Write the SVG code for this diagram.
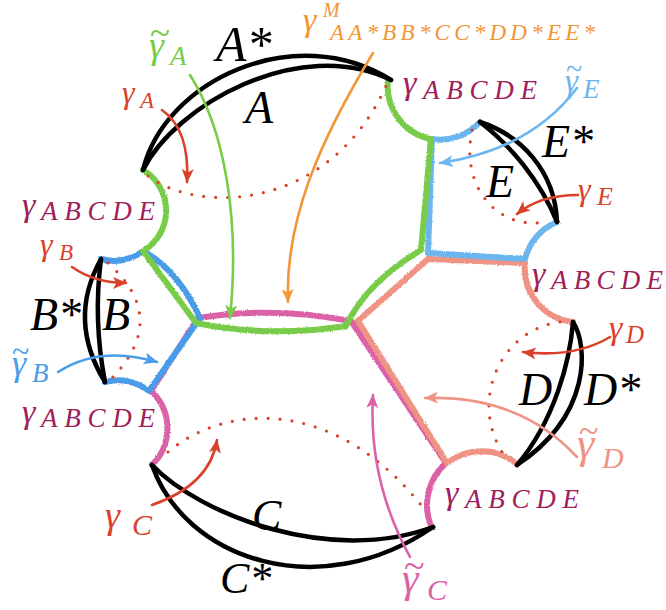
<svg xmlns="http://www.w3.org/2000/svg" width="666" height="610" viewBox="0 0 666 610">
<style>
.lbl{font-family:'Liberation Serif','DejaVu Serif',serif;font-style:italic}
.tl{font-family:'Liberation Serif','DejaVu Serif',serif;font-style:normal}
.blk{fill:none;stroke:#000;stroke-width:4.5;stroke-linecap:round;stroke-linejoin:round}
.loop{fill:none;stroke-width:6;stroke-linecap:round;stroke-linejoin:round;filter:url(#rough)}
.dot{fill:none;stroke:#d9412b;stroke-width:3.2;stroke-linecap:round;stroke-dasharray:0 12}
.arr{fill:none;stroke-width:2.6;stroke-linecap:round}
.red{fill:#d9412b}.mar{fill:#a0205a}
</style>
<defs>
<filter id="rough" filterUnits="userSpaceOnUse" x="0" y="0" width="666" height="610">
<feTurbulence type="fractalNoise" baseFrequency="0.9" numOctaves="2" seed="4"/>
<feDisplacementMap in="SourceGraphic" scale="2.5" xChannelSelector="R" yChannelSelector="G"/>
</filter>
<marker id="ah-red" viewBox="0 0 14 12" refX="13" refY="6" markerWidth="14" markerHeight="12" markerUnits="userSpaceOnUse" orient="auto"><path d="M0,0 L14,6 L0,12 L3.5,6 z" fill="#d9412b"/></marker>
<marker id="ah-green" viewBox="0 0 14 12" refX="13" refY="6" markerWidth="14" markerHeight="12" markerUnits="userSpaceOnUse" orient="auto"><path d="M0,0 L14,6 L0,12 L3.5,6 z" fill="#78cc48"/></marker>
<marker id="ah-orange" viewBox="0 0 14 12" refX="13" refY="6" markerWidth="14" markerHeight="12" markerUnits="userSpaceOnUse" orient="auto"><path d="M0,0 L14,6 L0,12 L3.5,6 z" fill="#f29636"/></marker>
<marker id="ah-blue" viewBox="0 0 14 12" refX="13" refY="6" markerWidth="14" markerHeight="12" markerUnits="userSpaceOnUse" orient="auto"><path d="M0,0 L14,6 L0,12 L3.5,6 z" fill="#4a9de8"/></marker>
<marker id="ah-lblue" viewBox="0 0 14 12" refX="13" refY="6" markerWidth="14" markerHeight="12" markerUnits="userSpaceOnUse" orient="auto"><path d="M0,0 L14,6 L0,12 L3.5,6 z" fill="#6cb6f0"/></marker>
<marker id="ah-salmon" viewBox="0 0 14 12" refX="13" refY="6" markerWidth="14" markerHeight="12" markerUnits="userSpaceOnUse" orient="auto"><path d="M0,0 L14,6 L0,12 L3.5,6 z" fill="#ef9484"/></marker>
<marker id="ah-pink" viewBox="0 0 14 12" refX="13" refY="6" markerWidth="14" markerHeight="12" markerUnits="userSpaceOnUse" orient="auto"><path d="M0,0 L14,6 L0,12 L3.5,6 z" fill="#dc62a8"/></marker>
</defs>
<rect width="666" height="610" fill="#fff"/>

<g id="loops">
<path id="loop-C" class="loop" stroke="#dc62a8" d="M152,465 A51,51 0 0 0 151,391 L198,318 Q272,306 351,321 L446,463 A56,56 0 0 0 432,528"/>
<path id="loop-D" class="loop" stroke="#ef9484" d="M517,464 A56,56 0 0 0 447,463 L358,321 L428,259 L525,263 A54,54 0 0 0 573,322"/>
<path id="loop-B" class="loop" stroke="#4a9de8" d="M101,259 A47,47 0 0 0 143,251 Q178,270 200,318 L149,391 A51,51 0 0 0 105,382"/>
<path id="loop-E" class="loop" stroke="#6cb6f0" d="M480,122 A54,54 0 0 1 432,139 L428,253 L525,259 A54,54 0 0 1 557,222"/>
<path id="loop-A" class="loop" stroke="#78cc48" d="M143,170 A47,47 0 0 1 143,251 L196,323 Q270,338 346,326 Q366,283 421,250 L431,139 A54,54 0 0 1 388,80"/>
</g>

<g id="edges">
<path id="A-star" class="blk" d="M143,170 C165,80 295,20 391,80"/>
<path id="A" class="blk" d="M143,170 C175,105 300,35 391,80"/>
<path id="B-star" class="blk" d="M101,259 Q67,320 105,382"/>
<path id="B" class="blk" d="M101,259 Q93,320 105,382"/>
<path id="C" class="blk" d="M152,465 C200,515 330,565 433,527"/>
<path id="C-star" class="blk" d="M152,465 C185,560 320,605 433,527"/>
<path id="D-star" class="blk" d="M573,322 C588,345 592,415 517,465"/>
<path id="D" class="blk" d="M573,322 C570,360 555,420 517,465"/>
<path id="E-star" class="blk" d="M480,122 C520,135 555,170 557,222"/>
<path id="E" class="blk" d="M480,122 C510,145 540,180 557,222"/>
</g>

<g id="dotted">
<path id="gA" class="dot" d="M148,176 C200,215 330,210 386,86"/>
<path id="gB" class="dot" d="M108,263 Q170,318 112,378"/>
<path id="gC" class="dot" d="M168,452 C230,400 340,400 425,510"/>
<path id="gD" class="dot" d="M560,322 C500,330 470,400 502,452"/>
<path id="gE" class="dot" d="M472,130 C460,190 500,230 545,222"/>
</g>

<g id="connectors">
<path class="arr" stroke="#d9412b" marker-end="url(#ah-red)" d="M162,110 Q190,130 187,182"/>
<path class="arr" stroke="#78cc48" marker-end="url(#ah-green)" d="M190,75 C225,130 240,220 230,318"/>
<path class="arr" stroke="#f29636" marker-end="url(#ah-orange)" d="M373,53 C320,140 285,220 288,302"/>
<path class="arr" stroke="#6cb6f0" marker-end="url(#ah-lblue)" d="M577,88 Q530,150 440,163"/>
<path class="arr" stroke="#d9412b" marker-end="url(#ah-red)" d="M578,195 Q540,195 517,214"/>
<path class="arr" stroke="#d9412b" marker-end="url(#ah-red)" d="M610,337 Q575,358 523,352"/>
<path class="arr" stroke="#ef9484" marker-end="url(#ah-salmon)" d="M577,457 Q520,395 425,398"/>
<path class="arr" stroke="#dc62a8" marker-end="url(#ah-pink)" d="M410,557 Q368,480 373,395"/>
<path class="arr" stroke="#d9412b" marker-end="url(#ah-red)" d="M152,505 Q210,485 217,440"/>
<path class="arr" stroke="#4a9de8" marker-end="url(#ah-blue)" d="M58,372 Q100,345 157,362"/>
<path class="arr" stroke="#d9412b" marker-end="url(#ah-red)" d="M72,267 Q95,283 126,283"/>
</g>

<g id="labels">
<text class="lbl" x="216" y="61" font-size="50">A*</text>
<text class="lbl" x="245" y="123" font-size="46">A</text>
<text class="lbl" x="30" y="330" font-size="46">B*</text>
<text class="lbl" x="102" y="330" font-size="46">B</text>
<text class="lbl" x="252" y="530" font-size="44">C</text>
<text class="lbl" x="220" y="593" font-size="44">C*</text>
<text class="lbl" x="519" y="405" font-size="46">D</text>
<text class="lbl" x="584" y="405" font-size="46">D*</text>
<text class="lbl" x="486" y="197" font-size="46">E</text>
<text class="lbl" x="542" y="157" font-size="46">E*</text>

<g id="lbl-gABCDE" class="mar">
<text class="lbl" x="403" y="94" font-size="34">γ</text>
<text class="lbl" x="423" y="99" font-size="27" textLength="114" lengthAdjust="spacing">ABCDE</text>
<text class="lbl" x="22" y="216" font-size="34">γ</text>
<text class="lbl" x="41" y="220" font-size="27" textLength="114" lengthAdjust="spacing">ABCDE</text>
<text class="lbl" x="22" y="423" font-size="34">γ</text>
<text class="lbl" x="41" y="427" font-size="27" textLength="114" lengthAdjust="spacing">ABCDE</text>
<text class="lbl" x="532" y="285" font-size="34">γ</text>
<text class="lbl" x="551" y="289" font-size="27" textLength="112" lengthAdjust="spacing">ABCDE</text>
<text class="lbl" x="445" y="504" font-size="34">γ</text>
<text class="lbl" x="465" y="508" font-size="27" textLength="114" lengthAdjust="spacing">ABCDE</text>
</g>

<g id="lbl-red" class="red">
<text class="lbl" x="122" y="103" font-size="32">γ</text>
<text class="lbl" x="140" y="108" font-size="23">A</text>
<text class="lbl" x="40" y="255" font-size="32">γ</text>
<text class="lbl" x="59" y="260" font-size="23">B</text>
<text class="lbl" x="105" y="528" font-size="38">γ</text>
<text class="lbl" x="132" y="535" font-size="30">C</text>
<text class="lbl" x="609" y="339" font-size="34">γ</text>
<text class="lbl" x="626" y="343" font-size="25">D</text>
<text class="lbl" x="578" y="200" font-size="32">γ</text>
<text class="lbl" x="597" y="205" font-size="26">E</text>
</g>

<g id="lbl-tildeA" fill="#78cc48">
<text class="tl" x="150" y="45" font-size="37">~</text>
<text class="lbl" x="149" y="58" font-size="38">γ</text>
<text class="lbl" x="170" y="65" font-size="27">A</text>
</g>
<g id="lbl-tildeE" fill="#6cb6f0">
<text class="tl" x="566" y="79" font-size="30">~</text>
<text class="lbl" x="565" y="92" font-size="33">γ</text>
<text class="lbl" x="583" y="98" font-size="27">E</text>
</g>
<g id="lbl-tildeB" fill="#4a9de8">
<text class="tl" x="12" y="362" font-size="32">~</text>
<text class="lbl" x="12" y="375" font-size="36">γ</text>
<text class="lbl" x="32" y="382" font-size="27">B</text>
</g>
<g id="lbl-tildeD" fill="#ef9484">
<text class="tl" x="579" y="443" font-size="36">~</text>
<text class="lbl" x="577" y="458" font-size="44">γ</text>
<text class="lbl" x="602" y="468" font-size="30">D</text>
</g>
<g id="lbl-tildeC" fill="#dc62a8">
<text class="tl" x="404" y="578" font-size="38">~</text>
<text class="lbl" x="402" y="592" font-size="42">γ</text>
<text class="lbl" x="427" y="600" font-size="30">C</text>
</g>
<g id="lbl-gM" fill="#f29636">
<text class="lbl" x="303" y="31" font-size="34">γ</text>
<text class="lbl" x="323" y="17" font-size="20">M</text>
<text class="lbl" x="330" y="40" font-size="23" textLength="265" lengthAdjust="spacing">AA*BB*CC*DD*EE*</text>
</g>
</g>
</svg>
